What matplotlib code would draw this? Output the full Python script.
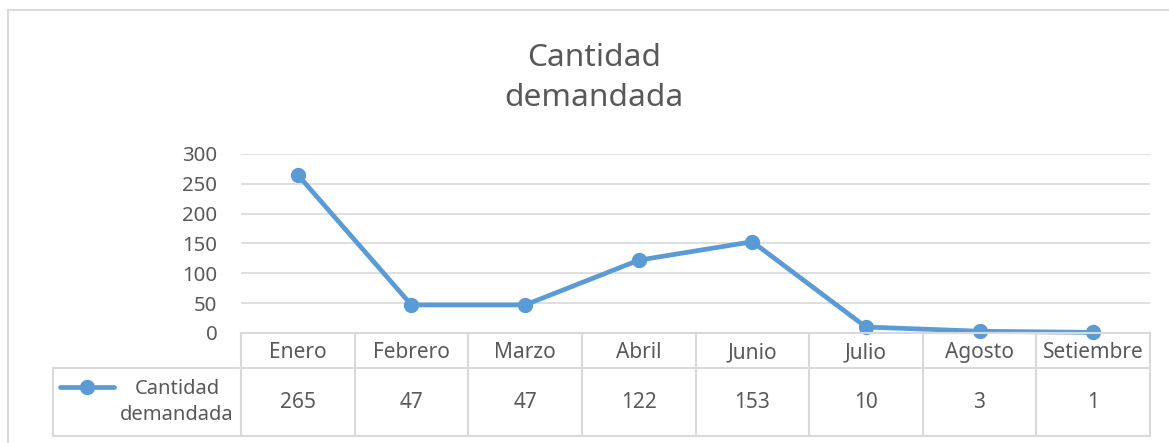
import matplotlib.pyplot as plt
from matplotlib.lines import Line2D

# Datos
meses = ['Enero', 'Febrero', 'Marzo', 'Abril', 'Junio', 'Julio', 'Agosto', 'Setiembre']
cantidad = [265, 47, 47, 122, 153, 10, 3, 1]
serie = 'Cantidad\ndemandada'
titulo = 'Cantidad\ndemandada'
yticks = [0, 50, 100, 150, 200, 250, 300]

azul = '#5B9BD5'
gris_txt = '#595959'
gris_linea = '#D9D9D9'

plt.rcParams['font.family'] = ['Noto Sans', 'DejaVu Sans']

W, H = 1169, 443
fig = plt.figure(figsize=(W / 100, H / 100), dpi=100)


def fx(px):
    return px / W


def fy(py):
    return 1 - py / H


# marco del gráfico
fig.add_artist(Line2D([fx(8), fx(8)], [fy(10), fy(443)], color=gris_linea, lw=1.5))
fig.add_artist(Line2D([fx(8), fx(1169)], [fy(10), fy(10)], color=gris_linea, lw=1.5))

# área del gráfico
x0, x1, ytop, ybot = 241, 1150, 154, 333
ax = fig.add_axes([fx(x0), fy(ybot), fx(x1 - x0), fy(ytop) - fy(ybot)])
n = len(meses)
ax.set_xlim(-0.5, n - 0.5)
ax.set_ylim(0, 300)
ax.set_yticks(yticks)
ax.set_yticklabels([str(v) for v in yticks], color=gris_txt, fontsize=14.7)
ax.tick_params(axis='y', length=0, pad=17)
ax.set_xticks([])
for s in ax.spines.values():
    s.set_visible(False)
ax.yaxis.grid(True, color=gris_linea, lw=1.2)
ax.set_axisbelow(True)
ax.plot(range(n), cantidad, color=azul, lw=3.4, marker='o', markersize=10,
        solid_capstyle='round', clip_on=False, zorder=3)

fig.text(fx(594), fy(78), titulo, ha='center', va='center', fontsize=22.8,
         color=gris_txt, linespacing=1.45)

# tabla de datos
tx0 = 53
yh0, yh1, yd1 = 333, 368, 436
colw = (x1 - x0) / n
tab = fig.add_axes([0, 0, 1, 1], facecolor='none')
tab.set_xlim(0, W)
tab.set_ylim(H, 0)
tab.axis('off')
lk = dict(color=gris_linea, lw=1.5)
tab.plot([x0, x1], [yh0, yh0], **lk)
tab.plot([tx0, x1], [yh1, yh1], **lk)
tab.plot([tx0, x1], [yd1, yd1], **lk)
tab.plot([tx0, tx0], [yh1, yd1], **lk)
for i in range(n + 1):
    xx = x0 + i * colw
    tab.plot([xx, xx], [yh0, yd1], **lk)
for i, (m, v) in enumerate(zip(meses, cantidad)):
    xc = x0 + (i + 0.5) * colw
    tab.text(xc, (yh0 + yh1) / 2 + 2, m, ha='center', va='center', fontsize=15, color=gris_txt)
    tab.text(xc, (yh1 + yd1) / 2, str(v), ha='center', va='center', fontsize=15, color=gris_txt)
# leyenda dentro de la tabla
tab.plot([60, 114], [387, 387], color=azul, lw=3.4, solid_capstyle='round')
tab.plot([87], [387], color=azul, marker='o', markersize=10)
tab.text(177, (yh1 + yd1) / 2, serie, ha='center', va='center', fontsize=14.5,
         color=gris_txt, linespacing=1.45)

fig.savefig('out.png', dpi=100)
